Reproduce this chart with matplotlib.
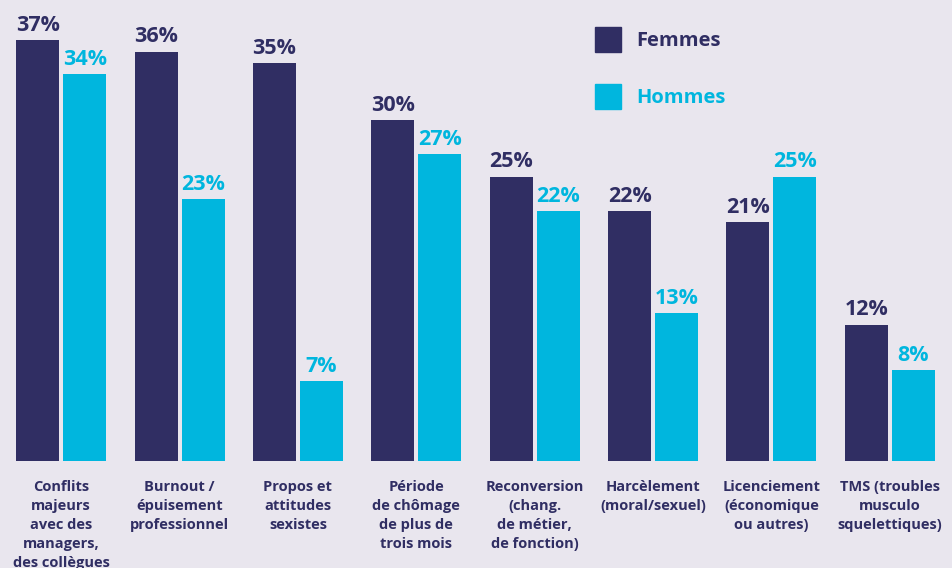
import matplotlib.pyplot as plt
import numpy as np

# causes de rupture professionnelle, en % (femmes / hommes)
categories = [
    "Conflits\nmajeurs\navec des\nmanagers,\ndes collègues",
    "Burnout /\népuisement\nprofessionnel",
    "Propos et\nattitudes\nsexistes",
    "Période\nde chômage\nde plus de\ntrois mois",
    "Reconversion\n(chang.\nde métier,\nde fonction)",
    "Harcèlement\n(moral/sexuel)",
    "Licenciement\n(économique\nou autres)",
    "TMS (troubles\nmusculo\nsquelettiques)",
]
femmes = [37, 36, 35, 30, 25, 22, 21, 12]
hommes = [34, 23, 7, 27, 22, 13, 25, 8]

navy = "#302E63"
cyan = "#00B6DE"
bg = "#E9E6EE"

plt.rcParams['font.family'] = ['Open Sans', 'DejaVu Sans']

W, H = 953, 568
fig = plt.figure(figsize=(W / 100, H / 100), dpi=100, facecolor=bg)
ax = fig.add_axes([2 / W, (H - 461) / H, 947 / W, 455 / H])
ax.set_facecolor(bg)

x = np.arange(len(categories))
bw = 43 / 118.4
off = 47 / 2 / 118.4
ax.bar(x - off, femmes, bw, color=navy)
ax.bar(x + off, hommes, bw, color=cyan)

for i in range(len(x)):
    ax.annotate(f"{femmes[i]}%", (x[i] - off, femmes[i]), xytext=(0, 3),
                textcoords="offset points", ha="center", va="bottom",
                fontsize=15.5, fontweight="bold", color=navy)
    ax.annotate(f"{hommes[i]}%", (x[i] + off, hommes[i]), xytext=(0, 3),
                textcoords="offset points", ha="center", va="bottom",
                fontsize=15.5, fontweight="bold", color=cyan)
    ax.annotate(categories[i], (x[i], 0), xytext=(0, -14),
                textcoords="offset points", ha="center", va="top",
                fontsize=10.5, fontweight="bold", color=navy, linespacing=1.45)

ax.set_xlim(-0.5, 7.5)
ax.set_ylim(0, 40)
ax.axis("off")

# legende
fig.patches.append(plt.Rectangle((595 / W, 1 - 52 / H), 26 / W, 25 / H,
                                 transform=fig.transFigure, color=navy))
fig.patches.append(plt.Rectangle((595 / W, 1 - 109 / H), 26 / W, 25 / H,
                                 transform=fig.transFigure, color=cyan))
fig.text(636 / W, 1 - 41 / H, "Femmes", fontsize=14.5, fontweight="bold",
         color=navy, va="center")
fig.text(636 / W, 1 - 98 / H, "Hommes", fontsize=14.5, fontweight="bold",
         color=cyan, va="center")

fig.savefig("out.png", dpi=100, facecolor=bg)
